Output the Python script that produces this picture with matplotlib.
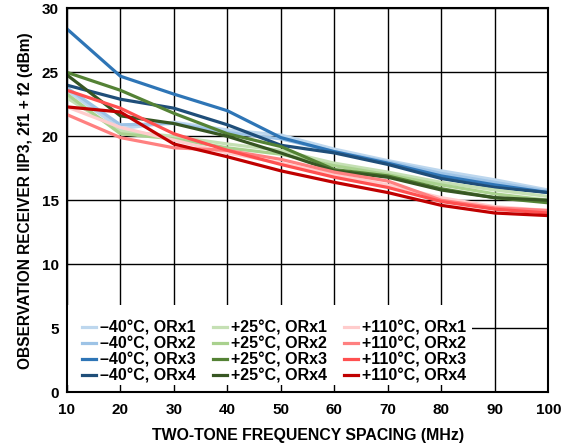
import matplotlib
matplotlib.use('Agg')
import matplotlib.pyplot as plt
from matplotlib.patches import Rectangle

plt.rcParams['font.family'] = ['Liberation Sans', 'DejaVu Sans']
plt.rcParams['font.weight'] = 'bold'

freq = [10, 20, 30, 40, 50, 60, 70, 80, 90, 100]

# -40C
m40_orx1 = [23.6, 20.6, 21.1, 20.5, 20.1, 19.0, 18.1, 17.3, 16.6, 15.8]
m40_orx2 = [23.8, 20.9, 21.0, 20.3, 19.8, 18.8, 18.0, 17.1, 16.4, 15.7]
m40_orx3 = [28.4, 24.7, 23.3, 22.0, 19.9, 18.8, 17.9, 16.9, 16.2, 15.6]
m40_orx4 = [24.0, 22.9, 22.2, 20.9, 19.3, 18.7, 17.8, 16.7, 16.0, 15.6]
# +25C
p25_orx1 = [23.0, 20.4, 20.0, 19.4, 18.9, 17.9, 17.2, 16.4, 15.8, 15.3]
p25_orx2 = [23.3, 20.2, 19.8, 19.1, 18.6, 17.7, 17.0, 16.2, 15.5, 15.0]
p25_orx3 = [25.0, 23.6, 21.8, 20.2, 19.2, 17.4, 16.9, 15.9, 15.2, 14.8]
p25_orx4 = [24.8, 21.6, 21.0, 20.0, 18.7, 17.3, 16.8, 15.8, 15.2, 15.0]
# +110C
p110_orx1 = [22.3, 20.7, 19.7, 18.7, 17.9, 17.0, 16.2, 15.2, 14.5, 14.2]
p110_orx2 = [21.7, 19.9, 19.1, 18.9, 18.2, 17.2, 16.5, 15.0, 14.4, 14.2]
p110_orx3 = [23.6, 22.2, 20.2, 18.9, 17.8, 16.8, 16.0, 14.9, 14.3, 14.0]
p110_orx4 = [22.3, 21.9, 19.4, 18.4, 17.3, 16.4, 15.6, 14.6, 14.0, 13.8]

series = [
    ('–40°C, ORx1', m40_orx1, '#bdd7ee'),
    ('–40°C, ORx2', m40_orx2, '#9dc3e6'),
    ('–40°C, ORx3', m40_orx3, '#2e75b6'),
    ('–40°C, ORx4', m40_orx4, '#1f4e79'),
    ('+25°C, ORx1', p25_orx1, '#c5e0b4'),
    ('+25°C, ORx2', p25_orx2, '#a9d18e'),
    ('+25°C, ORx3', p25_orx3, '#548235'),
    ('+25°C, ORx4', p25_orx4, '#375623'),
    ('+110°C, ORx1', p110_orx1, '#ffcccc'),
    ('+110°C, ORx2', p110_orx2, '#ff8080'),
    ('+110°C, ORx3', p110_orx3, '#ff5050'),
    ('+110°C, ORx4', p110_orx4, '#c00000'),
]

fig = plt.figure(figsize=(5.67, 4.44), dpi=100)
ax = fig.add_axes([0.118, 0.117, 0.849, 0.864])

for lab, vals, col in series:
    ax.plot(freq, vals, color=col, lw=2.3, label=lab)

ax.set_xlim(10, 100)
ax.set_ylim(0, 30)
ax.set_xticks(range(10, 101, 10))
ax.set_yticks(range(0, 31, 5))
ax.grid(True, color='black', lw=1)
ax.set_axisbelow(True)
for s in ax.spines.values():
    s.set_linewidth(1.5)
ax.tick_params(labelsize=11, length=0)
ax.tick_params(axis='x', pad=8)
ax.tick_params(axis='y', pad=6)
for t in ax.get_xticklabels() + ax.get_yticklabels():
    t.set_fontweight('bold')

ax.set_xlabel('TWO-TONE FREQUENCY SPACING (MHz)', fontsize=11.4, fontweight='bold', labelpad=8)
ax.set_ylabel('OBSERVATION RECEIVER IIP3, 2f1 + f2 (dBm)', fontsize=11.2, fontweight='bold', labelpad=6)

# white block behind the legend (hides the grid like the original)
ax.add_patch(Rectangle((0, 0.018), 0.841, 0.209, transform=ax.transAxes,
                       facecolor='white', edgecolor='none', zorder=2.1))

leg = ax.legend(loc='lower left', bbox_to_anchor=(0.028, 0.018), ncol=3, fontsize=11.5,
                frameon=False, handlelength=0.9, handletextpad=0.25, columnspacing=1.05,
                labelspacing=0.06, borderpad=0.1, borderaxespad=0)
for t in leg.get_texts():
    t.set_fontweight('bold')

fig.savefig('out.png', dpi=100)
